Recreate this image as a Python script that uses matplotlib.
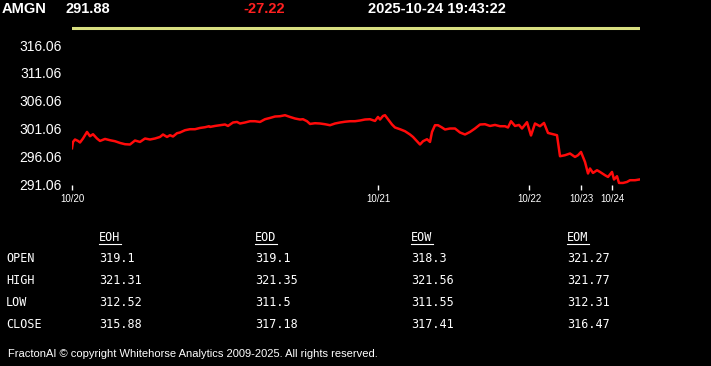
import matplotlib
matplotlib.use("Agg")
import matplotlib.pyplot as plt

# ---------------------------------------------------------------------
# Quote header
# ---------------------------------------------------------------------
symbol = "AMGN"
last_price = "291.88"
change = "-27.22"
stamp = "2025-10-24 19:43:22"
open_line = 319.1

# ---------------------------------------------------------------------
# Intraday price series (bar number, price)
# ---------------------------------------------------------------------
bars = [0, 1, 3, 6, 8, 11, 15, 18, 21, 25, 28, 33, 38, 43, 48, 53, 58, 63,
        68, 73, 78, 83, 88, 91, 95, 98, 101, 105, 108, 113, 118, 123, 128,
        133, 137, 138, 143, 148, 153, 156, 161, 165, 168, 173, 178, 183, 188,
        193, 198, 203, 208, 213, 218, 223, 228, 231, 235, 238, 243, 248, 253,
        258, 263, 268, 273, 278, 283, 288, 293, 298, 303, 306, 308, 311, 313,
        316, 320, 323, 328, 333, 338, 341, 345, 348, 351, 355, 358, 360, 363,
        366, 370, 373, 378, 383, 388, 393, 398, 403, 408, 413, 418, 423, 428,
        433, 436, 439, 443, 447, 450, 455, 459, 463, 468, 472, 476, 481, 485,
        488, 493, 498, 503, 506, 509, 513, 516, 518, 521, 525, 528, 533, 536,
        540, 542, 545, 547, 551, 555, 558, 563, 567]
prices = [297.52, 298.65, 299.09, 298.83, 298.55, 299.27, 300.45, 299.68,
          300.04, 299.27, 298.83, 299.19, 298.96, 298.78, 298.47, 298.24,
          298.19, 298.91, 298.65, 299.27, 299.09, 299.27, 299.55, 299.99,
          299.55, 299.86, 299.63, 300.22, 300.35, 300.76, 300.94, 300.94,
          301.17, 301.30, 301.48, 301.35, 301.53, 301.66, 301.79, 301.53,
          302.15, 302.25, 301.97, 302.15, 302.38, 302.38, 302.25, 302.74,
          302.97, 303.23, 303.28, 303.46, 303.15, 302.87, 302.69, 302.74,
          302.38, 301.89, 302.02, 301.97, 301.84, 301.66, 301.97, 302.15,
          302.29, 302.38, 302.38, 302.51, 302.69, 302.74, 302.43, 303.15,
          302.69, 303.33, 303.46, 302.74, 301.79, 301.25, 300.94, 300.58,
          299.99, 299.55, 298.78, 298.19, 298.78, 299.14, 298.65, 300.45,
          301.66, 301.66, 301.25, 300.89, 301.07, 301.07, 300.35, 299.99,
          300.45, 301.07, 301.79, 301.84, 301.53, 301.71, 301.48, 301.48,
          301.25, 302.38, 301.53, 301.71, 301.07, 302.20, 299.81, 301.97,
          301.48, 302.07, 300.27, 300.04, 299.86, 296.08, 296.26, 296.57,
          295.95, 296.26, 296.85, 295.05, 292.97, 293.87, 293.07, 293.56,
          293.25, 292.66, 292.35, 293.25, 291.89, 292.48, 291.27, 291.27,
          291.45, 291.76, 291.76, 291.88]

day_bars = [0, 306, 457, 509, 540]
day_labels = ["10/20", "10/21", "10/22", "10/23", "10/24"]
price_ticks = [291.06, 296.06, 301.06, 306.06, 311.06, 316.06]

# ---------------------------------------------------------------------
# Period summary table
# ---------------------------------------------------------------------
periods = ["EOH", "EOD", "EOW", "EOM"]
row_names = ["OPEN", "HIGH", "LOW", "CLOSE"]
opens = ["319.1", "319.1", "318.3", "321.27"]
highs = ["321.31", "321.35", "321.56", "321.77"]
lows = ["312.52", "311.5", "311.55", "312.31"]
closes = ["315.88", "317.18", "317.41", "316.47"]

W, H = 711, 366
fig = plt.figure(figsize=(W / 100, H / 100), dpi=100, facecolor="black")

ax = fig.add_axes([72 / W, 1 - 185 / H, 568 / W, 165 / H], facecolor="black")
ax.plot(bars, prices, color="#ff0a0a", lw=1.8, solid_joinstyle="round")
ax.plot([0, 568], [open_line, open_line], color="#d8de80", lw=2.2)
ax.set_xlim(0, 568)
ax.set_ylim(290.9, 320.6)
for s in ax.spines.values():
    s.set_visible(False)
ax.set_yticks(price_ticks)
ax.set_yticklabels(["%.2f" % v for v in price_ticks])
ax.tick_params(axis="y", length=0, pad=7.2, labelcolor="white", labelsize=10)
ax.set_xticks(day_bars)
ax.set_xticklabels(day_labels)
ax.tick_params(axis="x", length=3.5, width=1, color="white", pad=3,
               labelcolor="white", labelsize=7)
for lab in ax.get_yticklabels() + ax.get_xticklabels():
    lab.set_family("Liberation Sans")

# header
hdr = dict(color="white", fontsize=10.5, fontweight="bold",
           family="Liberation Sans", va="center")
fig.text(2 / W, 1 - 9 / H, symbol, **hdr)
fig.text(66 / W, 1 - 9 / H, last_price, **hdr)
fig.text(243 / W, 1 - 9 / H, change, **dict(hdr, color="#ff2020"))
fig.text(368 / W, 1 - 9 / H, stamp, **hdr)

# table
mono = dict(color="white", fontsize=8.5, family="DejaVu Sans Mono", va="center")
col_x = [99, 255, 411, 567]
row_y = [259, 281, 303, 324]
for cx, name in zip(col_x, periods):
    fig.text(cx / W, 1 - 238 / H, name, **mono)
    fig.add_artist(plt.Line2D([cx / W, (cx + 22) / W],
                              [1 - 244 / H, 1 - 244 / H],
                              color="white", lw=0.8))
for ry, name in zip(row_y, row_names):
    fig.text(6 / W, 1 - ry / H, name, **mono)
for ry, vals in zip(row_y, [opens, highs, lows, closes]):
    for cx, v in zip(col_x, vals):
        fig.text(cx / W, 1 - ry / H, v, **mono)

fig.text(8 / W, 1 - 354 / H,
         "FractonAI \u00a9 copyright Whitehorse Analytics 2009-2025. All rights reserved.",
         color="white", fontsize=8, family="Liberation Sans", va="center")

fig.savefig("out.png", dpi=100, facecolor="black")
